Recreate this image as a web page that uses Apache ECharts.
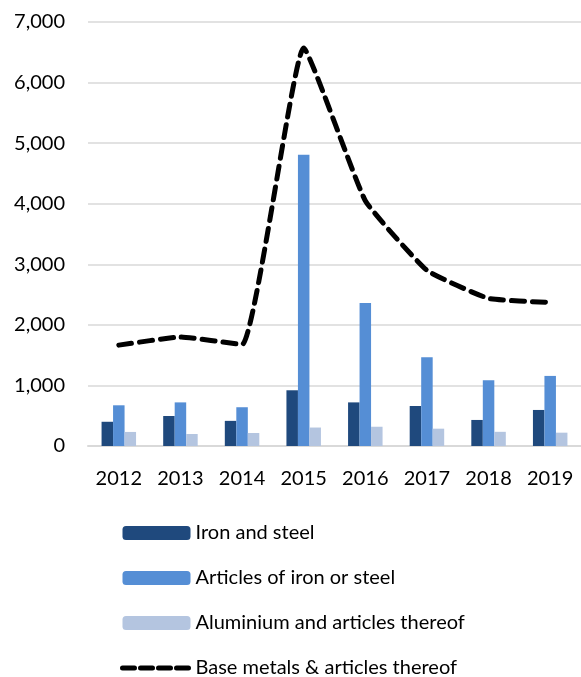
<!DOCTYPE html>
<html>
	<head>
		<meta charset="utf-8" />
		<title>Base metals</title>
		<script src="https://cdn.jsdelivr.net/npm/echarts@6/dist/echarts.min.js"></script>
		<style>
			html, body { margin: 0; padding: 0; background: #fff; }
			#main { width: 581px; height: 677px; }
		</style>
	</head>
	<body>
		<div id="main"></div>
	</body>
	<script type="text/javascript">
		// years on the x axis
		var years = ['2012', '2013', '2014', '2015', '2016', '2017', '2018', '2019'];
		// bar series
		var ironSteel = [400, 495, 415, 920, 720, 660, 430, 595];
		var articlesIronSteel = [672, 720, 640, 4810, 2360, 1466, 1086, 1157];
		var aluminium = [232, 198, 215, 305, 318, 286, 234, 220];
		// dashed total line
		var baseMetals = [1665, 1800, 1675, 6570, 4050, 2900, 2436, 2370];

		var font = 'Lato';
		var myCharts = echarts.init(document.getElementById('main'));
		var option = {
			animation: false,
			textStyle: { fontFamily: font },
			grid: {
				left: 88,
				right: 0,
				top: 22,
				bottom: 231,
				containLabel: false
			},
			legend: {
				orient: 'vertical',
				left: 120,
				top: 523,
				padding: 0,
				height: 200,
				itemWidth: 68,
				itemHeight: 14,
				itemGap: 25,
				textStyle: { fontFamily: font, fontSize: 20, color: '#000' },
				data: [
					'Iron and steel',
					'Articles of iron or steel',
					'Aluminium and articles thereof',
					{
						name: 'Base metals & articles thereof',
						itemStyle: { color: 'rgba(0,0,0,0)', borderColor: 'rgba(0,0,0,0)', borderWidth: 0 },
						lineStyle: { width: 5, type: [12, 6], cap: 'round' }
					}
				]
			},
			xAxis: {
				type: 'category',
				data: years,
				axisLine: { lineStyle: { color: '#d9d9d9', width: 2 } },
				axisTick: { show: false },
				axisLabel: { fontFamily: font, fontSize: 20, color: '#000', margin: 23 }
			},
			yAxis: {
				type: 'value',
				min: 0,
				max: 7000,
				interval: 1000,
				axisLine: { show: false },
				axisTick: { show: false },
				splitLine: { lineStyle: { color: '#d9d9d9', width: 1.5 } },
				axisLabel: {
					fontFamily: font, fontSize: 20, color: '#000', margin: 23,
					formatter: function (v) { return v.toLocaleString('en-US'); }
				}
			},
			series: [
				{
					name: 'Iron and steel',
					type: 'bar',
					data: ironSteel,
					barWidth: 11.5,
					barGap: '0%',
					itemStyle: { color: '#1f497d' }
				},
				{
					name: 'Articles of iron or steel',
					type: 'bar',
					data: articlesIronSteel,
					barWidth: 11.5,
					barGap: '0%',
					itemStyle: { color: '#558ed5' }
				},
				{
					name: 'Aluminium and articles thereof',
					type: 'bar',
					data: aluminium,
					barWidth: 11.5,
					barGap: '0%',
					itemStyle: { color: '#b4c5e0' }
				},
				{
					name: 'Base metals & articles thereof',
					type: 'line',
					data: baseMetals,
					smooth: 0.12,
					symbol: 'none',
					lineStyle: { color: '#000', width: 5, type: [13, 8], cap: 'round' },
					itemStyle: { color: '#000' }
				}
			]
		};
		myCharts.setOption(option);
	</script>
</html>
